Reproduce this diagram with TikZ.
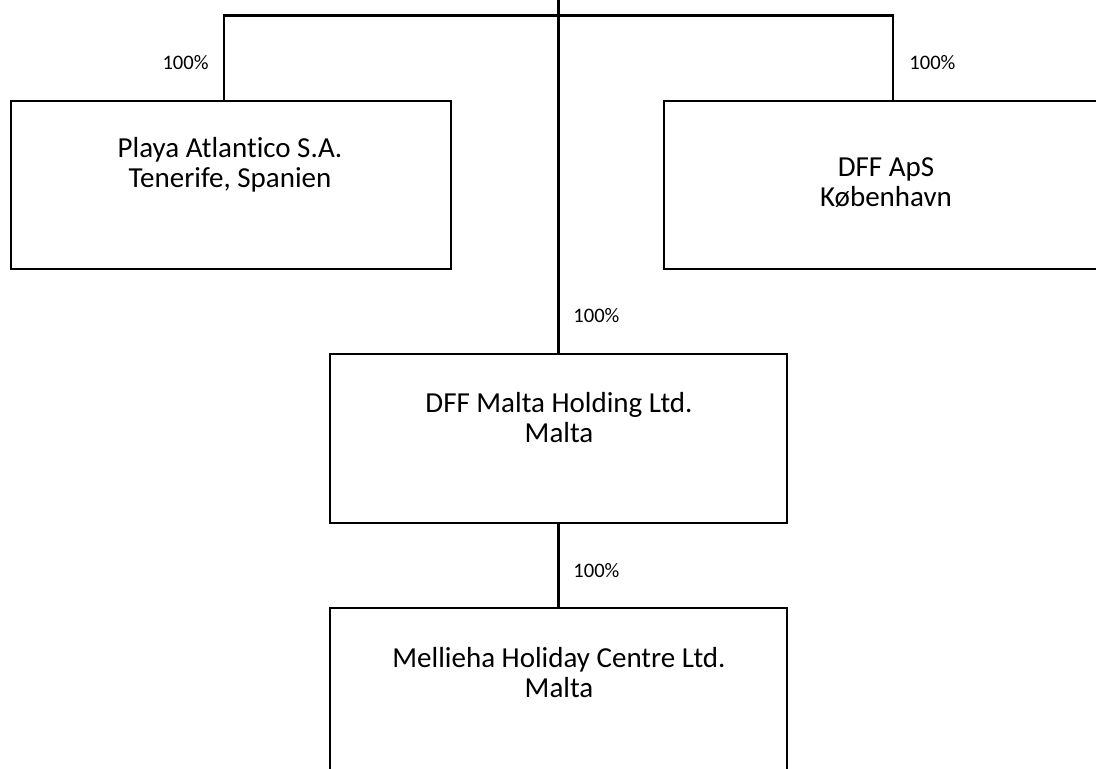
\documentclass[tikz,border=0pt]{standalone}
\usepackage{fontspec}
\setmainfont{Carlito}[Ligatures=NoCommon]
\usetikzlibrary{positioning}

\tikzset{
    firm/.style={draw, line width=1pt, rectangle, inner sep=0pt},
    firmtext/.style={align=center, inner sep=0pt, font=\fontsize{14.5}{15}\selectfont},
    pct/.style={inner sep=0pt, font=\fontsize{10.3}{12}\selectfont},
    link/.style={line width=1.1pt},
}

\begin{document}
\begin{tikzpicture}[x=0.5pt, y=-0.5pt]
    \useasboundingbox (0,0) rectangle (1096,769);
    %boxes
    \node[firm, minimum width=220pt, minimum height=84pt] (playa) at (231,185) {};
    \node[firm, minimum width=222pt, minimum height=84pt] (dff) at (886,185) {};
    \node[firm, minimum width=228.5pt, minimum height=84.5pt] (holding) at (558.5,438.5) {};
    \node[firm, minimum width=228.5pt, minimum height=84.5pt] (mellieha) at (558.5,692) {};
    %texts (base = last line)
    \node[firmtext, anchor=base] (playatxt) at (230,188) {Playa Atlantico S.A.\\Tenerife, Spanien};
    \node[firmtext, anchor=base] (dfftxt) at (886,207) {DFF ApS\\København};
    \node[firmtext, anchor=base] (holdingtxt) at (559,443) {DFF Malta Holding Ltd.\\Malta};
    \node[firmtext, anchor=base] (melliehatxt) at (559,697) {Mellieha Holiday Centre Ltd.\\Malta};
    %lines
    \coordinate (top) at (558.5,-2);
    \coordinate (barl) at (224,15.5);
    \coordinate (barr) at (893,15.5);
    \draw[link] (playa.north -| barl) -- (barl) -- (barr) -- (dff.north -| barr);
    \draw[link] (top) -- (holding.north);
    \draw[link] (holding.south) -- (mellieha.north);
    %shares
    \node[pct, anchor=base east] (pctplaya) at (209,70) {100\%};
    \node[pct, anchor=base west] (pctdff) at (909,70) {100\%};
    \node[pct, anchor=base west] (pctholding) at (573,323) {100\%};
    \node[pct, anchor=base west] (pctmellieha) at (573,577) {100\%};
\end{tikzpicture}
\end{document}
